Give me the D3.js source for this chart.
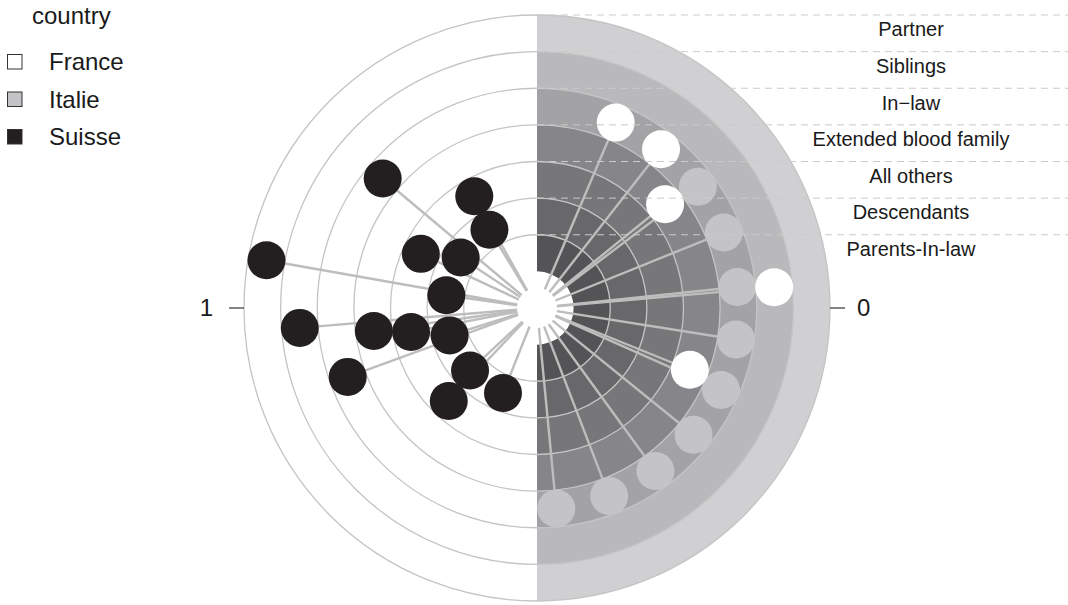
<!DOCTYPE html>
<html>
<head>
<meta charset="utf-8">
<script src="https://cdnjs.cloudflare.com/ajax/libs/d3/7.8.5/d3.min.js"></script>
<style>
  body { margin: 0; background: #fff; }
  svg text { font-family: "Liberation Sans", Arial, sans-serif; fill: #1a1a1a; }
</style>
</head>
<body>
<div id="chart"></div>
<script>
// rings, from the centre outwards
const relations = ["Parents-In-law", "Descendants", "All others", "Extended blood family", "In\u2212law", "Siblings", "Partner"];
const countries = ["France", "Italie", "Suisse"];
const thetaTickValues = [90, 270];
const thetaTickLabels = ["0", "1"];

// angle = degrees clockwise from 12 o'clock, relation = ring the dot sits in
const italie = [
    {angle: 53, relation: "In\u2212law"},
    {angle: 68, relation: "In\u2212law"},
    {angle: 84, relation: "In\u2212law"},
    {angle: 99, relation: "In\u2212law"},
    {angle: 114, relation: "In\u2212law"},
    {angle: 129, relation: "In\u2212law"},
    {angle: 144, relation: "In\u2212law"},
    {angle: 159, relation: "In\u2212law"},
    {angle: 174.5, relation: "In\u2212law"}
];
const france = [
    {angle: 23, relation: "In\u2212law"},
    {angle: 38, relation: "In\u2212law"},
    {angle: 51, relation: "Extended blood family"},
    {angle: 85, relation: "Siblings"},
    {angle: 112, relation: "Extended blood family"}
];
const suisse = [
    {angle: 310, relation: "In\u2212law"},
    {angle: 330.7, relation: "All others"},
    {angle: 328.7, relation: "Descendants"},
    {angle: 295, relation: "All others"},
    {angle: 303.5, relation: "Descendants"},
    {angle: 280, relation: "Partner"},
    {angle: 278, relation: "Descendants"},
    {angle: 265.2, relation: "Siblings"},
    {angle: 262, relation: "Extended blood family"},
    {angle: 259.2, relation: "All others"},
    {angle: 252.6, relation: "Descendants"},
    {angle: 250, relation: "In\u2212law"},
    {angle: 227, relation: "Descendants"},
    {angle: 201.8, relation: "Descendants"},
    {angle: 223.5, relation: "All others"}
];

const width = 1068, height = 605;
const cx = 537, cy = 308, R = 293;
const stemStart = 20, dotRadius = 19;

const svg = d3.select("#chart")
    .append("svg")
    .attr("width", width)
    .attr("height", height);

const theta = d3.scaleLinear().domain([0, 360]).range([0, 2 * Math.PI]);
const ring = d3.scaleBand().domain(relations).range([R / 8, R]).paddingInner(0).paddingOuter(0);
const bw = ring.bandwidth();
const ringFill = d3.scaleOrdinal()
    .domain(relations)
    .range(["#545457", "#68686b", "#777779", "#86868a", "#a3a3a6", "#b9b9bc", "#d0d0d2"]);
const countryFill = d3.scaleOrdinal()
    .domain(countries)
    .range(["#ffffff", "#c4c4c7", "#231f20"]);

const g = svg.append("g").attr("transform", `translate(${cx},${cy})`);

// half rings on the right
const arc = d3.arc()
    .innerRadius(d => ring(d))
    .outerRadius(d => ring(d) + bw)
    .startAngle(theta(0))
    .endAngle(theta(180));

g.selectAll(".band")
    .data(relations)
    .join("path")
    .attr("class", "band")
    .attr("d", arc)
    .attr("fill", d => ringFill(d));

// grid circles
g.selectAll(".grid")
    .data(relations)
    .join("circle")
    .attr("class", "grid")
    .attr("r", d => ring(d) + bw)
    .attr("fill", "none")
    .attr("stroke", "#c4c4c4")
    .attr("stroke-width", 1.3);

// dashed guides going to the labels
svg.selectAll(".guide")
    .data(relations)
    .join("line")
    .attr("class", "guide")
    .attr("x1", cx)
    .attr("x2", width)
    .attr("y1", d => cy - ring(d) - bw)
    .attr("y2", d => cy - ring(d) - bw)
    .attr("stroke", "#cbcbcb")
    .attr("stroke-width", 1)
    .attr("stroke-dasharray", "7,5");

svg.selectAll(".relLabel")
    .data(relations)
    .join("text")
    .attr("class", "relLabel")
    .attr("x", 911)
    .attr("y", d => cy - ring(d) - bw / 2 - 4)
    .attr("dy", "0.35em")
    .attr("text-anchor", "middle")
    .style("font-size", "20px")
    .text(d => d);

// theta axis ticks (0 on the right, 1 on the left)
const ticks = thetaTickValues.map((v, i) => ({value: v, label: thetaTickLabels[i]}));
ticks.forEach(t => {
    const [x1, y1] = d3.pointRadial(theta(t.value), R);
    const [x2, y2] = d3.pointRadial(theta(t.value), R + 15);
    const [xl, yl] = d3.pointRadial(theta(t.value), t.value < 180 ? R + 27 : R + 31);
    g.append("line")
        .attr("x1", x1).attr("y1", y1).attr("x2", x2).attr("y2", y2)
        .attr("stroke", "#333").attr("stroke-width", 1.2);
    g.append("text")
        .attr("x", xl).attr("y", yl)
        .attr("dy", "0.35em")
        .attr("text-anchor", t.value < 180 ? "start" : "end")
        .style("font-size", "24px")
        .text(t.label);
});

// lollipops
const points = [
    ...italie.map(d => ({...d, country: "Italie"})),
    ...france.map(d => ({...d, country: "France"})),
    ...suisse.map(d => ({...d, country: "Suisse"}))
];

g.selectAll(".stem")
    .data(points)
    .join("line")
    .attr("class", "stem")
    .attr("x1", d => d3.pointRadial(theta(d.angle), stemStart)[0])
    .attr("y1", d => d3.pointRadial(theta(d.angle), stemStart)[1])
    .attr("x2", d => d3.pointRadial(theta(d.angle), ring(d.relation) + bw / 2)[0])
    .attr("y2", d => d3.pointRadial(theta(d.angle), ring(d.relation) + bw / 2)[1])
    .attr("stroke", "#bdbdbd")
    .attr("stroke-width", 2.4);

g.selectAll(".dot")
    .data(points)
    .join("circle")
    .attr("class", "dot")
    .attr("cx", d => d3.pointRadial(theta(d.angle), ring(d.relation) + bw / 2)[0])
    .attr("cy", d => d3.pointRadial(theta(d.angle), ring(d.relation) + bw / 2)[1])
    .attr("r", dotRadius)
    .attr("fill", d => countryFill(d.country));

// legend
const legend = svg.append("g");
legend.append("text")
    .attr("x", 32)
    .attr("y", 24)
    .style("font-size", "24px")
    .text("country");

const items = legend.selectAll(".item")
    .data(countries)
    .join("g")
    .attr("class", "item")
    .attr("transform", (d, i) => `translate(0, ${62 + i * 37.5})`);

items.append("rect")
    .attr("x", 7.5)
    .attr("y", -7.5)
    .attr("width", 14.5)
    .attr("height", 14.5)
    .attr("fill", d => countryFill(d))
    .attr("stroke", "#333")
    .attr("stroke-width", 1);

items.append("text")
    .attr("x", 49)
    .attr("y", 0)
    .attr("dy", "0.35em")
    .style("font-size", "24px")
    .text(d => d);
</script>
</body>
</html>
